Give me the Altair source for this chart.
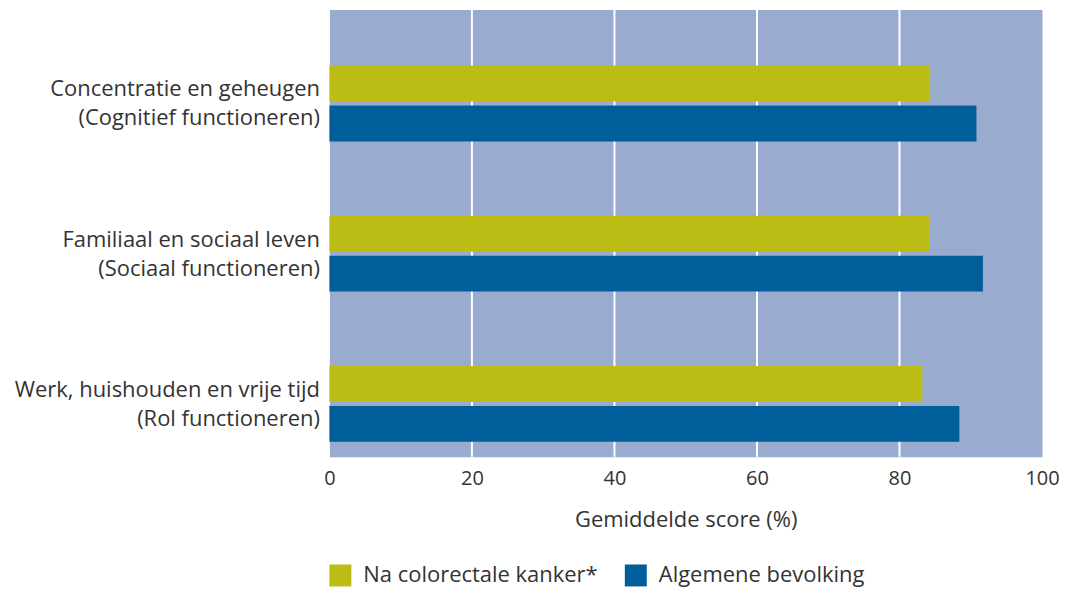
import altair as alt
import pandas as pd

categories = [
    "Concentratie en geheugen\n(Cognitief functioneren)",
    "Familiaal en sociaal leven\n(Sociaal functioneren)",
    "Werk, huishouden en vrije tijd\n(Rol functioneren)",
]
series = ["Na colorectale kanker*", "Algemene bevolking"]
na_kanker = [84.3, 84.2, 83.2]
algemeen = [90.8, 91.7, 88.4]
grid_values = [20, 40, 60, 80]
tick_values = [0, 20, 40, 60, 80, 100]
colors = ["#bbbd15", "#005e9a"]

rows = []
for c, a, b in zip(categories, na_kanker, algemeen):
    rows.append({"cat": c, "serie": series[0], "val": a})
    rows.append({"cat": c, "serie": series[1], "val": b})
df = pd.DataFrame(rows)
grid_df = pd.DataFrame({"g": grid_values})

FONT = "Open Sans"
TXT = "#333333"

bars = alt.Chart(df).mark_bar(cornerRadius=0).encode(
    x=alt.X("val:Q",
            scale=alt.Scale(domain=[0, 100], nice=False, zero=True),
            axis=alt.Axis(values=tick_values, grid=False, ticks=False, domain=False,
                          labelFlush=False,
                          labelFontSize=20, labelFont=FONT, labelColor=TXT,
                          labelPadding=12, title="Gemiddelde score (%)",
                          titleFontSize=22, titleFont=FONT, titleColor=TXT,
                          titleFontWeight="normal", titlePadding=21)),
    y=alt.Y("cat:N", sort=categories,
            scale=alt.Scale(paddingInner=0.495, paddingOuter=0.236, align=0.79),
            axis=alt.Axis(title=None, ticks=False, domain=False,
                          labelExpr="split(datum.label, '\\n')",
                          labelFontSize=22, labelFont=FONT, labelColor=TXT,
                          labelLineHeight=29, labelPadding=10, labelLimit=400,
                          labelOffset=-14,
                          minExtent=322, maxExtent=322)),
    yOffset=alt.YOffset("serie:N", sort=series,
                        scale=alt.Scale(paddingInner=0.1, paddingOuter=0)),
    color=alt.Color("serie:N", sort=series,
                    scale=alt.Scale(domain=series, range=colors),
                    legend=alt.Legend(title=None, orient="none", direction="horizontal",
                                      legendX=0, legendY=556, padding=0,
                                      symbolType="square", symbolSize=484,
                                      symbolStrokeWidth=0, symbolOpacity=1,
                                      labelFontSize=22, labelFont=FONT, labelColor=TXT,
                                      labelLimit=400,
                                      labelOffset=12, columnPadding=27)),
)

grid = alt.Chart(grid_df).mark_rule(color="white", strokeWidth=2).encode(
    x=alt.X("g:Q"),
)

chart = alt.layer(grid, bars).properties(
    width=714, height=448,
    padding={"left": 0, "top": 0, "right": 0, "bottom": 0},
).configure(
    font=FONT,
).configure_view(
    fill="#99abce", stroke="transparent",
)

chart.save("out.html", embed_options={"renderer": "svg", "actions": False})
